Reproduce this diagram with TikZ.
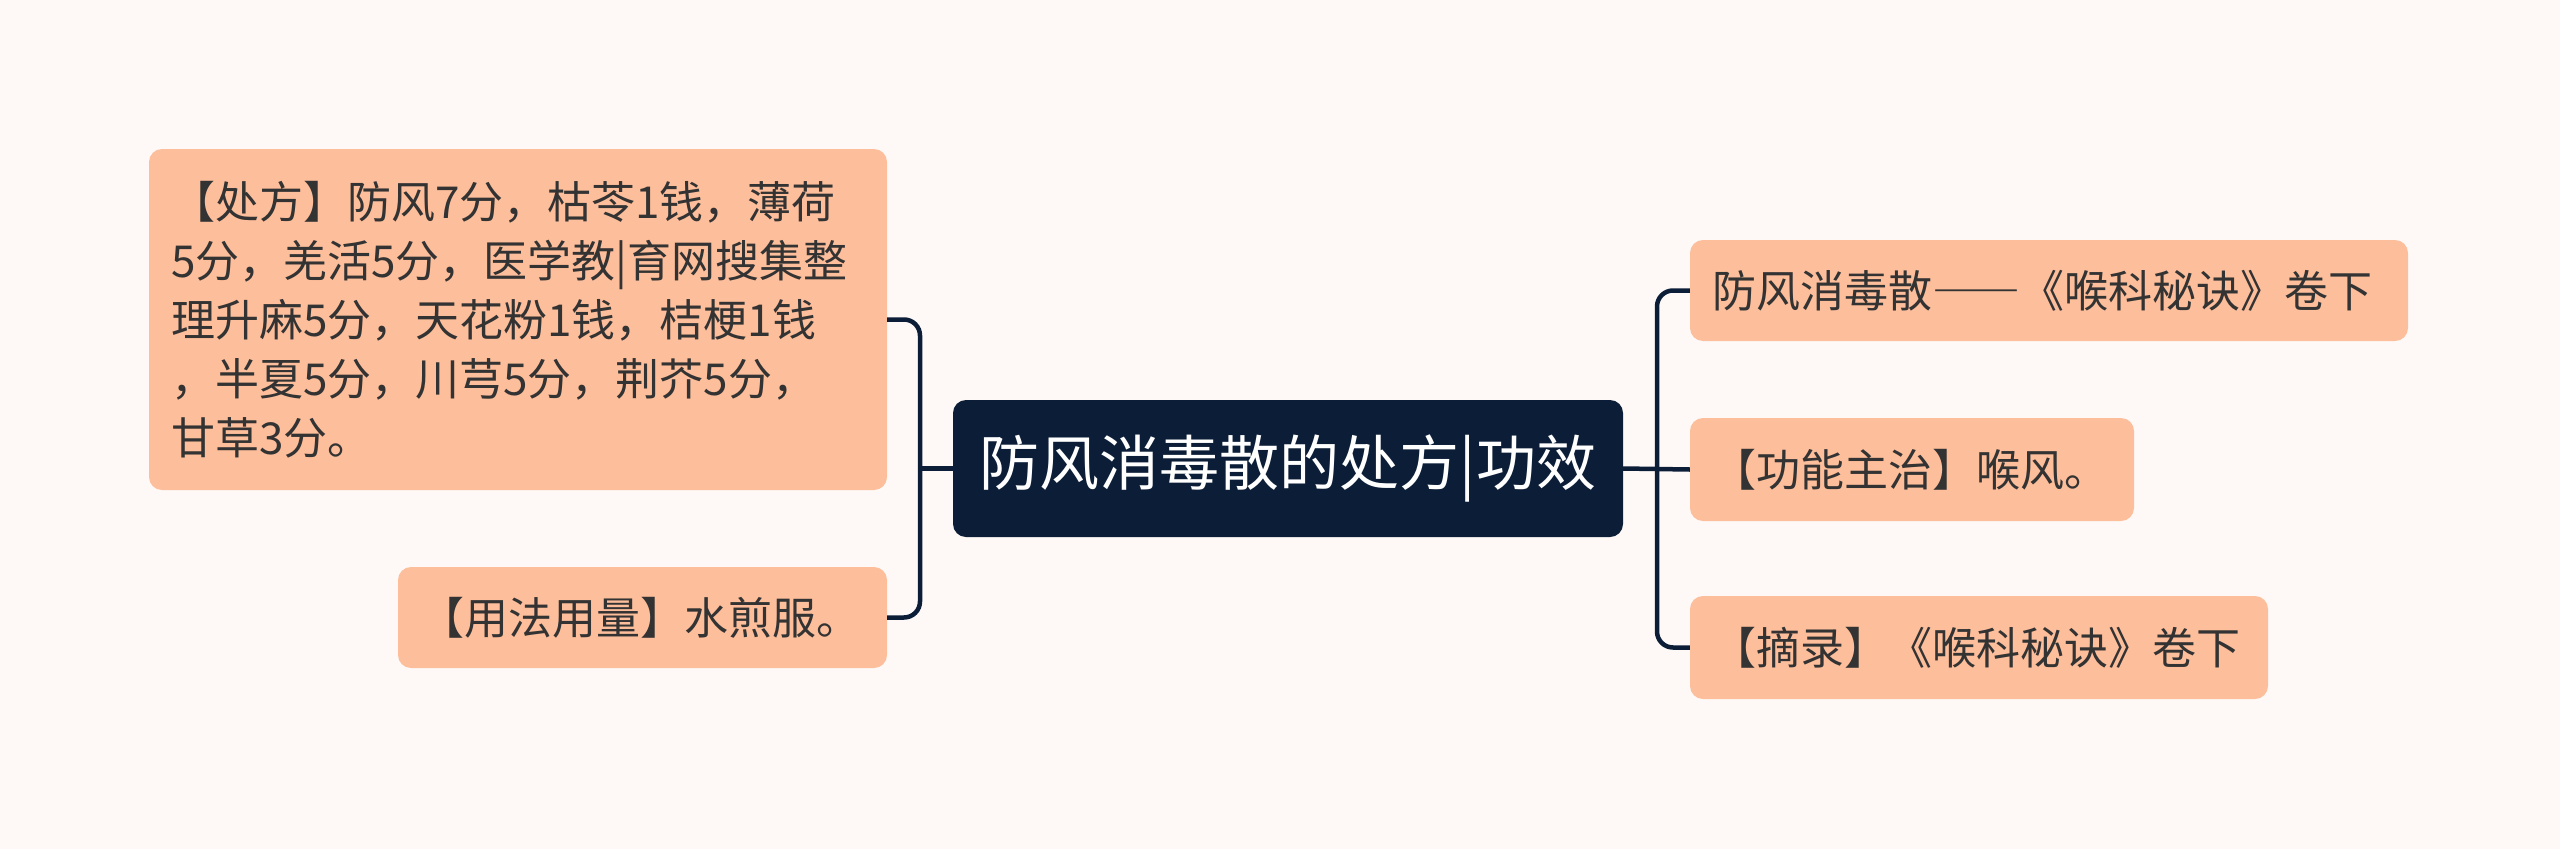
\documentclass[tikz,border=0pt]{standalone}
\usepackage{fontspec}
\setmainfont{Noto Sans CJK SC}
\usetikzlibrary{calc}
\definecolor{bg}{HTML}{FEF9F7}
\definecolor{peach}{HTML}{FDBE9B}
\definecolor{navy}{HTML}{0C1E37}
\definecolor{txt}{HTML}{333333}
\begin{document}
\begin{tikzpicture}[x=1pt,y=-1pt,
  leaf/.style={fill=peach, rounded corners=13pt, inner xsep=22pt, inner ysep=0pt,
    align=left, text=txt, font=\fontsize{44}{59}\selectfont},
  root/.style={fill=navy, rounded corners=13pt, inner sep=0pt, text=white,
    minimum width=670pt, minimum height=137pt, font=\fontsize{60}{72}\selectfont},
  conn/.style={draw=navy, line width=4.5pt, rounded corners=16pt}]
\fill[bg] (0,0) rectangle (2560,849);
\useasboundingbox (0,0) rectangle (2560,849);

\node[root] (c) at (1288,468.5) {防风消毒散的处方|功效};

\node[leaf, text width=694pt, minimum height=341pt] (lt) at (518,319.5)
  {【处方】防风7分，枯苓1钱，薄荷\\5分，羌活5分，医学教|育网搜集整\\理升麻5分，天花粉1钱，桔梗1钱\\，半夏5分，川芎5分，荆芥5分，\\甘草3分。};
\node[leaf, text width=445pt, minimum height=101pt] (lb) at (642.5,617.5)
  {【用法用量】水煎服。};

\node[leaf, text width=674pt, minimum height=101pt] (r1) at (2049,290.5)
  {防风消毒散{\addfontfeatures{CharacterWidth=Full}——}《喉科秘诀》卷下};
\node[leaf, text width=400pt, minimum height=103pt] (r2) at (1912,469.5)
  {【功能主治】喉风。};
\node[leaf, text width=534pt, minimum height=103pt] (r3) at (1979,647.5)
  {【摘录】《喉科秘诀》卷下};

\coordinate (lbus) at (920,468.5);
\coordinate (rbus) at (1657,468.5);

\draw[conn] (c.west) -- (lbus);
\draw[conn] (lt.east) -| (lbus) |- (lb.east);
\draw[conn] (c.east) -- (r2.west);
\draw[conn] (r1.west) -| (rbus) |- (r3.west);
\end{tikzpicture}
\end{document}
